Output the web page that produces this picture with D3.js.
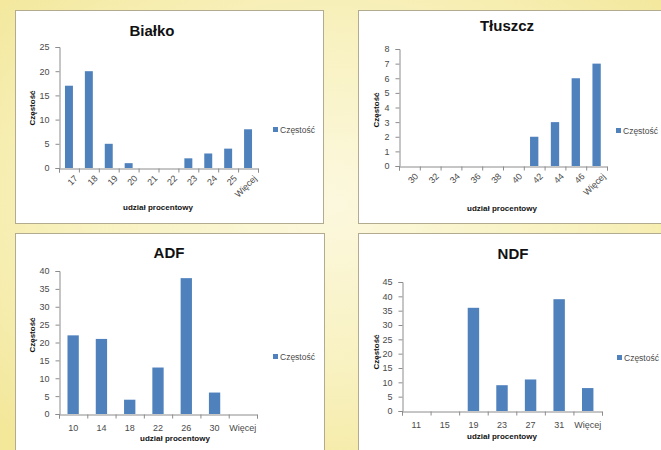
<!DOCTYPE html>
<html>
<head>
<meta charset="utf-8">
<script src="https://cdn.jsdelivr.net/npm/d3@7"></script>
<style>
  html, body { margin: 0; padding: 0; }
  body { width: 661px; height: 450px; overflow: hidden; }
  svg { display: block; }
</style>
</head>
<body>
<svg id="chart" width="661" height="450"></svg>
<script>
// Histogram data: frequency per percentage bin
const bialkoCategories = ["17", "18", "19", "20", "21", "22", "23", "24", "25", "Więcej"];
const bialkoValues     = [17, 20, 5, 1, 0, 0, 2, 3, 4, 8];
const bialkoTicks      = [0, 5, 10, 15, 20, 25];

const tluszczCategories = ["30", "32", "34", "36", "38", "40", "42", "44", "46", "Więcej"];
const tluszczValues     = [0, 0, 0, 0, 0, 0, 2, 3, 6, 7];
const tluszczTicks      = [0, 1, 2, 3, 4, 5, 6, 7, 8];

const adfCategories = ["10", "14", "18", "22", "26", "30", "Więcej"];
const adfValues     = [22, 21, 4, 13, 38, 6, 0];
const adfTicks      = [0, 5, 10, 15, 20, 25, 30, 35, 40];

const ndfCategories = ["11", "15", "19", "23", "27", "31", "Więcej"];
const ndfValues     = [0, 0, 36, 9, 11, 39, 8];
const ndfTicks      = [0, 5, 10, 15, 20, 25, 30, 35, 40, 45];

const yTitle = "Częstość";
const xTitle = "udział procentowy";
const seriesName = "Częstość";

const svg = d3.select("#chart");

// Yellow backdrop, lighter towards the middle
const defs = svg.append("defs");
const grad = defs.append("radialGradient")
  .attr("id", "bg").attr("cx", "50%").attr("cy", "45%").attr("r", "70%");
grad.append("stop").attr("offset", "0%").attr("stop-color", "#fcf8de");
grad.append("stop").attr("offset", "55%").attr("stop-color", "#f8f1bf");
grad.append("stop").attr("offset", "100%").attr("stop-color", "#f3e79a");
svg.append("rect").attr("width", 661).attr("height", 450).attr("fill", "url(#bg)");

const BAR = "#4f81bd";
const AXIS = "#8c8c8c";
const TXT = "#4a4a4a";
const FONT = "'Liberation Sans', Arial, sans-serif";

function drawPanel(cfg) {
  const g = svg.append("g");

  // chart frame
  g.append("rect")
    .attr("x", cfg.frame[0] + 0.5).attr("y", cfg.frame[1] + 0.5)
    .attr("width", cfg.frame[2]).attr("height", cfg.frame[3])
    .attr("fill", "#ffffff").attr("stroke", "#b3ab8f").attr("stroke-width", 1);

  const [x0, x1, yTop, yBase] = cfg.plot;
  const maxTick = cfg.ticks[cfg.ticks.length - 1];

  const x = d3.scaleBand().domain(cfg.categories)
    .range([x0, x1]).paddingInner(0.6).paddingOuter(0.3);
  const y = d3.scaleLinear().domain([0, maxTick]).range([yBase, yTop]);
  const edges = d3.scaleLinear().domain([0, cfg.categories.length]).range([x0, x1]);

  // bars
  g.selectAll("rect.bar").data(cfg.values).join("rect")
    .attr("class", "bar")
    .attr("x", (d, i) => x(cfg.categories[i]))
    .attr("width", x.bandwidth())
    .attr("y", d => y(d))
    .attr("height", d => yBase - y(d))
    .attr("fill", BAR);

  // y axis
  const ya = g.append("g").attr("transform", `translate(${x0 + 0.5},0)`)
    .call(d3.axisLeft(y).tickValues(cfg.ticks).tickSize(4).tickPadding(6));
  ya.select(".domain").attr("stroke", AXIS);
  ya.selectAll(".tick line").attr("stroke", AXIS);
  ya.selectAll(".tick text").attr("fill", TXT).style("font", `9px ${FONT}`);

  // x axis: tick marks between categories
  const xe = g.append("g").attr("transform", `translate(0,${yBase + 0.5})`)
    .call(d3.axisBottom(edges).tickValues(d3.range(cfg.categories.length + 1))
      .tickSize(4).tickFormat(""));
  xe.select(".domain").attr("stroke", AXIS);
  xe.selectAll(".tick line").attr("stroke", AXIS);

  // x axis: category labels
  const xl = g.append("g").attr("transform", `translate(0,${yBase + 0.5})`)
    .call(d3.axisBottom(x).tickSize(0).tickPadding(cfg.rotate ? 6 : 10));
  xl.select(".domain").remove();
  const labels = xl.selectAll(".tick text").attr("fill", TXT).style("font", `9px ${FONT}`);
  if (cfg.rotate) {
    labels.attr("text-anchor", "end")
      .attr("dy", "0.35em")
      .attr("transform", "translate(3,4) rotate(-45)");
  }

  // titles
  g.append("text").attr("x", cfg.title[1]).attr("y", cfg.title[2])
    .attr("text-anchor", "middle").style("font", `bold 15px ${FONT}`).attr("fill", "#111")
    .text(cfg.title[0]);
  g.append("text").attr("x", cfg.xTitle[0]).attr("y", cfg.xTitle[1])
    .attr("text-anchor", "middle").style("font", `bold 8px ${FONT}`).attr("fill", "#111")
    .text(xTitle);
  g.append("text")
    .attr("transform", `translate(${cfg.yTitle[0]},${cfg.yTitle[1]}) rotate(-90)`)
    .attr("text-anchor", "middle").style("font", `bold 8px ${FONT}`).attr("fill", "#111")
    .text(yTitle);

  // legend
  g.append("rect").attr("x", cfg.legend[0]).attr("y", cfg.legend[1] - 3)
    .attr("width", 5).attr("height", 5).attr("fill", BAR);
  g.append("text").attr("x", cfg.legend[0] + 7).attr("y", cfg.legend[1])
    .attr("dy", "0.33em").style("font", `8.5px ${FONT}`).attr("fill", TXT)
    .text(seriesName);
}

drawPanel({
  categories: bialkoCategories, values: bialkoValues, ticks: bialkoTicks,
  frame: [15, 10, 308, 213], plot: [59, 258, 47, 168], rotate: true,
  title: ["Białko", 152, 36], xTitle: [158, 210], yTitle: [35, 108], legend: [273, 130]
});
drawPanel({
  categories: tluszczCategories, values: tluszczValues, ticks: tluszczTicks,
  frame: [358, 10, 330, 213], plot: [399, 607, 49, 166], rotate: true,
  title: ["Tłuszcz", 507, 31], xTitle: [502, 211], yTitle: [379, 110], legend: [616, 131]
});
drawPanel({
  categories: adfCategories, values: adfValues, ticks: adfTicks,
  frame: [15, 233, 309, 240], plot: [59, 257, 271, 414], rotate: false,
  title: ["ADF", 169, 258], xTitle: [175, 441], yTitle: [35, 335], legend: [273, 357]
});
drawPanel({
  categories: ndfCategories, values: ndfValues, ticks: ndfTicks,
  frame: [358, 233, 330, 240], plot: [402, 602, 282, 411], rotate: false,
  title: ["NDF", 513, 259], xTitle: [502, 439], yTitle: [379, 352], legend: [617, 358]
});
</script>
</body>
</html>
